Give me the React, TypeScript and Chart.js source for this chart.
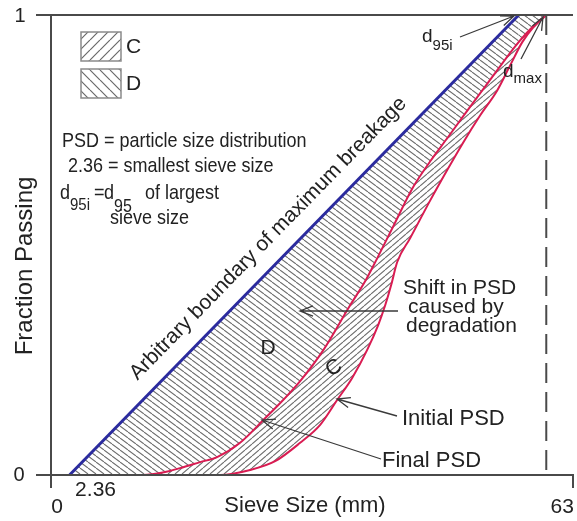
import { useEffect, useRef } from "react";
import { Chart, registerables } from "chart.js";

Chart.register(...registerables);

// Sieve sizes (mm) and fraction passing for each gradation curve
const SMALLEST_SIEVE = 2.36;
const DMAX = 63;
const X_MAX = 66.4;

const boundaryX = [2.36, 59.5, 63];
const boundaryY = [0, 1, 1];

const finalX = [2.36, 11.71, 14.51, 16.42, 18.96, 21.13, 24.05, 26.98, 29.53, 31.69, 34.62, 38.05, 39.96, 41.49, 43.78, 46.07, 48.24, 50.4, 52.44, 54.6, 57.15, 59.05, 60.96, 63];
const finalY = [0, 0, 0.0065, 0.015, 0.028, 0.039, 0.07, 0.119, 0.163, 0.204, 0.271, 0.369, 0.421, 0.471, 0.549, 0.626, 0.682, 0.732, 0.78, 0.83, 0.889, 0.932, 0.969, 1];

const initialX = [2.36, 21.51, 25.33, 28.51, 31.69, 34.24, 36.4, 38.31, 40.22, 41.62, 42.51, 43.27, 44.04, 45.69, 48.24, 50.4, 52.44, 54.6, 56.76, 58.42, 59.95, 61.35, 63];
const initialY = [0, 0, 0.011, 0.03, 0.07, 0.109, 0.163, 0.211, 0.272, 0.326, 0.369, 0.413, 0.463, 0.515, 0.597, 0.663, 0.723, 0.782, 0.836, 0.891, 0.941, 0.973, 1];

const xTicks = ["0", "2.36", "63"];
const yTicks = ["0", "1"];

const FONT = '"Liberation Sans", Arial, Helvetica, sans-serif';
const BLUE = "#2b2b9e";
const RED = "#d91c52";
const INK = "#222222";
const HATCH = "#6e6e6e";
const CLEAR = "rgba(0,0,0,0)";
const NOTE_STRETCH = 1.12;

const toPoints = (xs: number[], ys: number[]) => xs.map((x, i) => ({ x, y: ys[i] }));

// dir 1 = "\" lines, dir -1 = "/" lines
function hatch(dir: number, w: number, h: number, color: string, width = 1) {
  const c = document.createElement("canvas");
  c.width = w;
  c.height = h;
  const g = c.getContext("2d")!;
  g.strokeStyle = color;
  g.lineWidth = width;
  g.beginPath();
  for (const o of [-w, 0, w]) {
    if (dir === 1) {
      g.moveTo(o, 0);
      g.lineTo(o + w, h);
    } else {
      g.moveTo(o, h);
      g.lineTo(o + w, 0);
    }
  }
  g.stroke();
  return g.createPattern(c, "repeat")!;
}

function arrow(ctx: CanvasRenderingContext2D, fx: number, fy: number, tx: number, ty: number) {
  const a = Math.atan2(ty - fy, tx - fx);
  const len = 14;
  const spread = 0.38;
  ctx.beginPath();
  ctx.moveTo(fx, fy);
  ctx.lineTo(tx, ty);
  ctx.moveTo(tx - len * Math.cos(a - spread), ty - len * Math.sin(a - spread));
  ctx.lineTo(tx, ty);
  ctx.lineTo(tx - len * Math.cos(a + spread), ty - len * Math.sin(a + spread));
  ctx.stroke();
}

// text drawn slightly taller than the font's natural proportions
function tall(ctx: CanvasRenderingContext2D, text: string, x: number, y: number, size: number) {
  ctx.save();
  ctx.translate(x, y);
  ctx.scale(1, NOTE_STRETCH);
  ctx.font = `${size}px ${FONT}`;
  ctx.fillText(text, 0, 0);
  const w = ctx.measureText(text).width;
  ctx.restore();
  return x + w;
}

function sub(
  ctx: CanvasRenderingContext2D,
  x: number,
  y: number,
  base: string,
  s: string,
  size: number,
  subSize: number,
  drop: number
) {
  const nx = tall(ctx, base, x, y, size);
  return tall(ctx, s, nx, y + drop, subSize);
}

const decorations = {
  id: "psdDecorations",
  afterDraw(chart: any) {
    const { ctx, chartArea, scales } = chart;
    const px = (v: number) => scales.x.getPixelForValue(v);
    const py = (v: number) => scales.y.getPixelForValue(v);
    const x0 = px(0);
    const y0 = py(0);
    const y1 = py(1);
    const right = chartArea.right;
    const pats = chart.$pats;

    ctx.save();
    // frame: axes, top line and end ticks
    ctx.strokeStyle = "#4a4a4a";
    ctx.lineWidth = 2;
    ctx.beginPath();
    ctx.moveTo(x0 - 15, y0);
    ctx.lineTo(right, y0);
    ctx.lineTo(right, y0 + 13);
    ctx.moveTo(x0 - 15, y1);
    ctx.lineTo(right, y1);
    ctx.moveTo(x0, y1);
    ctx.lineTo(x0, y0 + 13);
    ctx.stroke();

    // dmax marker
    ctx.setLineDash([20, 9]);
    ctx.beginPath();
    ctx.moveTo(px(DMAX), y1);
    ctx.lineTo(px(DMAX), y0);
    ctx.stroke();
    ctx.setLineDash([]);

    // tick labels
    ctx.fillStyle = INK;
    ctx.textBaseline = "middle";
    ctx.textAlign = "center";
    ctx.font = `20px ${FONT}`;
    ctx.fillText(yTicks[1], 20, y1 + 1);
    ctx.fillText(yTicks[0], 19, y0);
    ctx.font = `21px ${FONT}`;
    ctx.fillText(xTicks[0], x0 + 6, y0 + 32);
    ctx.fillText(xTicks[1], px(SMALLEST_SIEVE) + 26, y0 + 15);
    ctx.fillText(xTicks[2], px(DMAX) + 16, y0 + 32);

    // axis titles
    ctx.font = `22px ${FONT}`;
    ctx.fillText("Sieve Size (mm)", 305, y0 + 31);
    ctx.save();
    ctx.translate(25, 266);
    ctx.rotate(-Math.PI / 2);
    ctx.font = `24px ${FONT}`;
    ctx.fillText("Fraction Passing", 0, 0);
    ctx.restore();

    // legend boxes
    const boxes = [
      { y: 32, pat: pats.legC, label: "C" },
      { y: 69, pat: pats.legD, label: "D" },
    ];
    for (const b of boxes) {
      ctx.fillStyle = b.pat;
      ctx.fillRect(81, b.y, 40, 29);
      ctx.strokeStyle = "#8a8a8a";
      ctx.lineWidth = 1.5;
      ctx.strokeRect(81, b.y, 40, 29);
      ctx.fillStyle = INK;
      ctx.font = `21px ${FONT}`;
      ctx.textAlign = "left";
      ctx.fillText(b.label, 126, b.y + 15);
    }

    // notes
    ctx.textBaseline = "alphabetic";
    ctx.textAlign = "left";
    ctx.fillStyle = INK;
    tall(ctx, "PSD = particle size distribution", 62, 147, 18);
    tall(ctx, "2.36 = smallest sieve size", 68, 172, 18);
    sub(ctx, 60, 199, "d", "95i", 18, 15, 11);
    tall(ctx, "=", 94, 199, 18);
    sub(ctx, 104, 199, "d", "95", 18, 16, 13);
    tall(ctx, "of largest", 145, 199, 18);
    tall(ctx, "sieve size", 110, 224, 18);

    // label along the maximum breakage boundary
    const ax = px(boundaryX[0]);
    const ay = py(boundaryY[0]);
    const bx = px(boundaryX[1]);
    const by = py(boundaryY[1]);
    const ang = Math.atan2(by - ay, bx - ax);
    const ux = Math.cos(ang);
    const uy = Math.sin(ang);
    const along = 308;
    const off = 23;
    ctx.save();
    ctx.translate(ax + ux * along + uy * off, ay + uy * along - ux * off);
    ctx.rotate(ang);
    ctx.textAlign = "center";
    ctx.textBaseline = "middle";
    ctx.font = `21px ${FONT}`;
    ctx.fillText("Arbitrary boundary of maximum breakage", 0, 0);
    ctx.restore();

    // region letters
    ctx.textAlign = "center";
    ctx.textBaseline = "middle";
    ctx.font = `21px ${FONT}`;
    ctx.fillText("D", 268, 348);
    ctx.save();
    ctx.translate(334, 368);
    ctx.rotate(-0.55);
    ctx.fillText("C", 0, 0);
    ctx.restore();

    // callouts
    ctx.strokeStyle = "#3a3a3a";
    ctx.lineWidth = 1.3;
    arrow(ctx, 398, 311, 300, 311);
    arrow(ctx, 397, 416, 337, 399);
    arrow(ctx, 381, 459, 262, 420);
    arrow(ctx, 460, 37, 514, 16);
    arrow(ctx, 521, 59, 543, 17);

    ctx.textAlign = "left";
    ctx.textBaseline = "alphabetic";
    ctx.fillStyle = INK;
    ctx.font = `21px ${FONT}`;
    ctx.fillText("Shift in PSD", 403, 294);
    ctx.fillText("caused by", 408, 313);
    ctx.fillText("degradation", 406, 332);
    ctx.font = `22px ${FONT}`;
    ctx.fillText("Initial PSD", 402, 425);
    ctx.fillText("Final PSD", 382, 467);
    ctx.font = `19px ${FONT}`;
    let w = ctx.measureText("d").width;
    ctx.fillText("d", 422, 42);
    ctx.font = `15px ${FONT}`;
    ctx.fillText("95i", 422 + w, 50);
    ctx.font = `19px ${FONT}`;
    w = ctx.measureText("d").width;
    ctx.fillText("d", 503, 77);
    ctx.font = `15px ${FONT}`;
    ctx.fillText("max", 503 + w, 83);

    ctx.restore();
  },
};

export default function App() {
  const ref = useRef<HTMLCanvasElement | null>(null);

  useEffect(() => {
    const canvas = ref.current;
    if (!canvas) return;
    const patD = hatch(1, 8, 6, HATCH, 1.1);
    const patC = hatch(-1, 7, 6, HATCH, 1.1);
    const chart: any = new Chart(canvas, {
      type: "line",
      data: {
        datasets: [
          {
            label: "Maximum breakage",
            data: toPoints(boundaryX, boundaryY),
            borderColor: BLUE,
            borderWidth: 3,
            tension: 0,
            fill: 1,
            backgroundColor: patD,
            clip: 4,
            segment: {
              borderColor: (c: any) => (c.p1DataIndex === boundaryX.length - 1 ? CLEAR : BLUE),
            },
          },
          {
            label: "Final PSD",
            data: toPoints(finalX, finalY),
            borderColor: RED,
            borderWidth: 2,
            cubicInterpolationMode: "monotone",
            fill: 2,
            backgroundColor: patC,
            clip: 4,
            segment: {
              borderColor: (c: any) => (c.p0DataIndex === 0 ? CLEAR : RED),
            },
          },
          {
            label: "Initial PSD",
            data: toPoints(initialX, initialY),
            borderColor: RED,
            borderWidth: 2,
            cubicInterpolationMode: "monotone",
            fill: false,
            clip: 4,
            segment: {
              borderColor: (c: any) => (c.p0DataIndex === 0 ? CLEAR : RED),
            },
          },
        ],
      },
      options: {
        animation: false,
        responsive: false,
        maintainAspectRatio: false,
        layout: { padding: { left: 51, right: 4, top: 15, bottom: 46 } },
        elements: { point: { radius: 0, hoverRadius: 0 } },
        scales: {
          x: { type: "linear", min: 0, max: X_MAX, display: false },
          y: { type: "linear", min: 0, max: 1, display: false },
        },
        plugins: {
          legend: { display: false },
          tooltip: { enabled: false },
          filler: { drawTime: "beforeDatasetsDraw", propagate: false },
        },
      },
      plugins: [
        {
          id: "psdPatterns",
          beforeInit(c: any) {
            c.$pats = {
              legC: hatch(-1, 10, 10, "#6a6a6a", 1.2),
              legD: hatch(1, 10, 10, "#6a6a6a", 1.2),
            };
          },
        },
        decorations,
      ],
    } as any);
    return () => chart.destroy();
  }, []);

  return (
    <div style={{ position: "absolute", left: 0, top: 0, width: 577, height: 521, background: "#fff" }}>
      <canvas ref={ref} width={577} height={521} style={{ display: "block" }} />
    </div>
  );
}
